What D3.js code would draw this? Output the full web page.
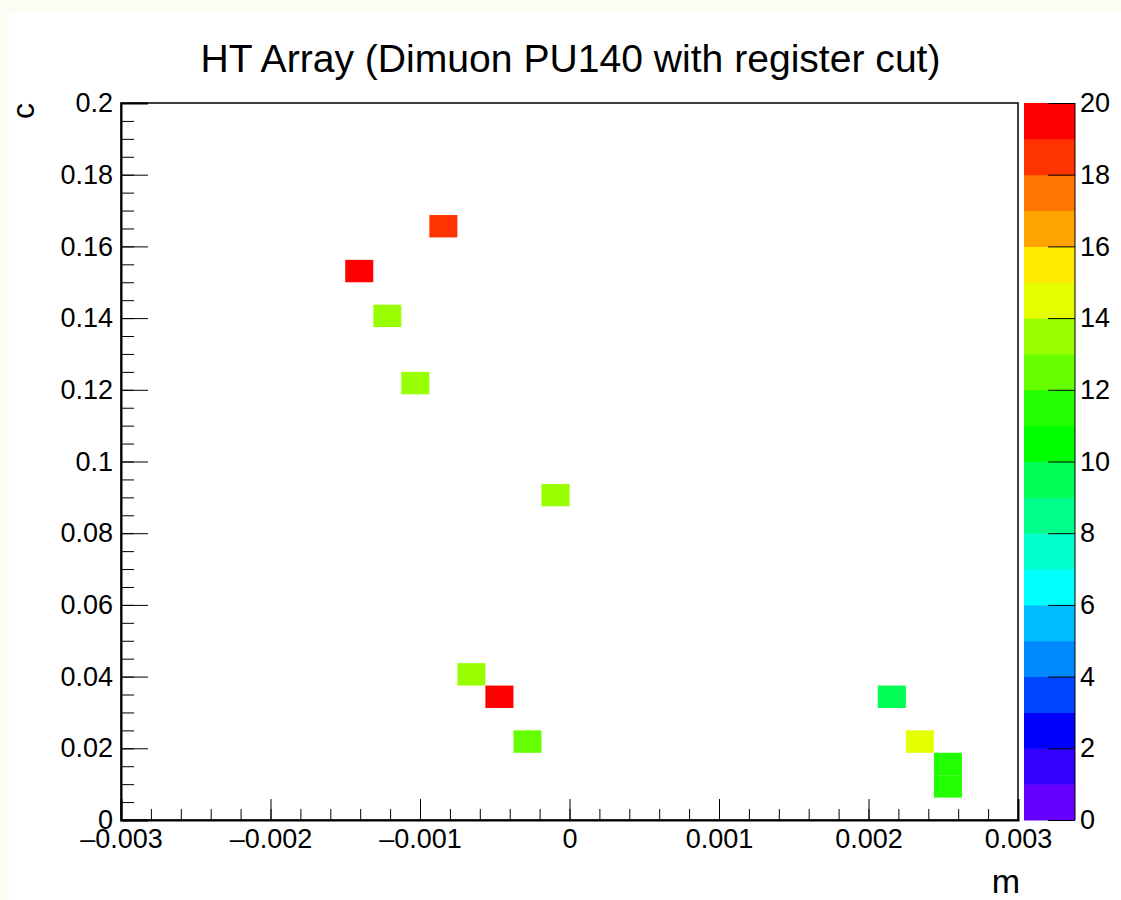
<html>
<head>
  <style>
    body{margin:0;background:#fbfcf3}
    svg text{font-family:"Liberation Sans",Arial,sans-serif;fill:#000}
    .axis path,.axis line{stroke:#000}
  </style>
</head>
<body>
<div id="ht-array"></div>
<script src="https://d3js.org/d3.v7.min.js"></script>
<script>

// histogram binning (32 x 32)
var mRange = [-0.003, 0.003],
    cRange = [0, 0.2],
    nBins  = 32;

// filled cells: m, c (inside the bin) and bin content
var cellM     = [-0.00084, -0.00141, -0.00122, -0.00103, -0.00009, -0.00066, -0.00047, -0.00028, 0.00216, 0.00234, 0.00253, 0.00253],
    cellC     = [0.1656, 0.1531, 0.1406, 0.1219, 0.0906, 0.0406, 0.0344, 0.0219, 0.0344, 0.0219, 0.0156, 0.0094],
    cellCount = [18, 20, 13, 13, 13, 13, 20, 12, 9, 14, 11, 11];

// ticks
var xMajor  = [-0.003, -0.002, -0.001, 0, 0.001, 0.002, 0.003],
    xLabels = ['\u20130.003', '\u20130.002', '\u20130.001', '0', '0.001', '0.002', '0.003'],
    yMajor  = [0, 0.02, 0.04, 0.06, 0.08, 0.1, 0.12, 0.14, 0.16, 0.18, 0.2],
    yLabels = ['0', '0.02', '0.04', '0.06', '0.08', '0.1', '0.12', '0.14', '0.16', '0.18', '0.2'],
    zMajor  = [0, 2, 4, 6, 8, 10, 12, 14, 16, 18, 20];

// 20 contour colours, lowest first
var palette = ['#6600ff', '#3300ff', '#0000ff', '#0044ff', '#0088ff', '#00bbff', '#00ffff', '#00ffcc', '#00ff88', '#00ff55',
               '#00ff00', '#22ff00', '#66ff00', '#99ff00', '#e6ff00', '#ffea00', '#ffa300', '#ff7700', '#ff3300', '#ff0000'];

(function () {

  var
    W = 1121, H = 900,
    left = 121, right = 1018, top = 103, bottom = 820,
    barL = 1024, barR = 1075,
    dm = (mRange[1] - mRange[0]) / nBins,
    dc = (cRange[1] - cRange[0]) / nBins,
    x = d3.scaleLinear().domain(mRange).range([left, right]),
    y = d3.scaleLinear().domain(cRange).range([bottom, top]),
    z = d3.scaleLinear().domain([0, palette.length]).range([bottom, top]),
    colour = d3.scaleQuantize().domain([0, palette.length]).range(palette),
    svg = d3.select('#ht-array').append('svg')
      .attr('width', W)
      .attr('height', H);

  svg.append('rect')
    .attr('x', 9).attr('y', 13)
    .attr('width', W - 9).attr('height', H - 13)
    .attr('fill', '#fff');

  // cells
  var cells = d3.range(cellM.length).map(function (i) {
    var bx = Math.floor((cellM[i] - mRange[0]) / dm),
        by = Math.floor((cellC[i] - cRange[0]) / dc);
    return {m0: mRange[0] + bx * dm, c0: cRange[0] + by * dc, v: cellCount[i]};
  });

  svg.append('g').selectAll('rect')
    .data(cells)
    .enter().append('rect')
    .attr('x', function (d) { return x(d.m0); })
    .attr('y', function (d) { return y(d.c0 + dc); })
    .attr('width', function (d) { return x(d.m0 + dm) - x(d.m0); })
    .attr('height', function (d) { return y(d.c0) - y(d.c0 + dc); })
    .attr('fill', function (d) { return colour(Math.min(d.v, palette.length - 0.001)); });

  // frame
  svg.append('rect')
    .attr('x', left).attr('y', top)
    .attr('width', right - left).attr('height', bottom - top)
    .attr('fill', 'none')
    .attr('stroke', '#000')
    .attr('stroke-width', 1.5);

  // x axis
  svg.append('g')
    .attr('class', 'axis')
    .attr('transform', 'translate(0,' + bottom + ')')
    .call(d3.axisBottom(x).tickValues(d3.range(0, 31).map(function (k) { return mRange[0] + k * 0.0002; }))
      .tickSize(-11).tickFormat(''))
    .call(function (g) { g.select('.domain').remove(); });

  svg.append('g')
    .attr('class', 'axis')
    .attr('transform', 'translate(0,' + bottom + ')')
    .call(d3.axisBottom(x).tickValues(xMajor).tickSize(-21).tickPadding(9)
      .tickFormat(function (d, i) { return xLabels[i]; }))
    .call(function (g) {
      g.select('.domain').attr('stroke-width', 2);
      g.selectAll('text').style('font-size', '27px');
    });

  // y axis
  svg.append('g')
    .attr('class', 'axis')
    .attr('transform', 'translate(' + left + ',0)')
    .call(d3.axisLeft(y).tickValues(d3.range(0, 41).map(function (k) { return k * 0.005; }))
      .tickSize(-13).tickFormat(''))
    .call(function (g) { g.select('.domain').remove(); });

  svg.append('g')
    .attr('class', 'axis')
    .attr('transform', 'translate(' + left + ',0)')
    .call(d3.axisLeft(y).tickValues(yMajor).tickSize(-27).tickPadding(8)
      .tickFormat(function (d, i) { return yLabels[i]; }))
    .call(function (g) {
      g.select('.domain').attr('stroke-width', 2);
      g.selectAll('text').style('font-size', '27px');
    });

  // colour bar
  svg.append('g').selectAll('rect')
    .data(palette)
    .enter().append('rect')
    .attr('x', barL)
    .attr('y', function (d, i) { return z(i + 1); })
    .attr('width', barR - barL)
    .attr('height', function (d, i) { return z(i) - z(i + 1) + 0.5; })
    .attr('fill', function (d) { return d; });

  svg.append('g')
    .attr('class', 'axis')
    .attr('transform', 'translate(' + barR + ',0)')
    .call(d3.axisRight(z).tickValues(zMajor).tickSize(-27).tickPadding(5))
    .call(function (g) {
      g.select('.domain').attr('d', 'M0,' + top + 'V' + bottom);
      g.selectAll('text').style('font-size', '27px');
    });

  // titles
  svg.append('text')
    .attr('x', (left + right) / 2 + 1)
    .attr('y', 72)
    .attr('text-anchor', 'middle')
    .attr('textLength', 740)
    .attr('lengthAdjust', 'spacingAndGlyphs')
    .style('font-size', '38px')
    .text('HT Array (Dimuon PU140 with register cut)');

  svg.append('text')
    .attr('transform', 'translate(34,' + top + ') rotate(-90)')
    .attr('text-anchor', 'end')
    .style('font-size', '32px')
    .text('c');

  svg.append('text')
    .attr('x', right + 2)
    .attr('y', 893)
    .attr('text-anchor', 'end')
    .style('font-size', '34px')
    .text('m');

})();
</script>
</body>
</html>
